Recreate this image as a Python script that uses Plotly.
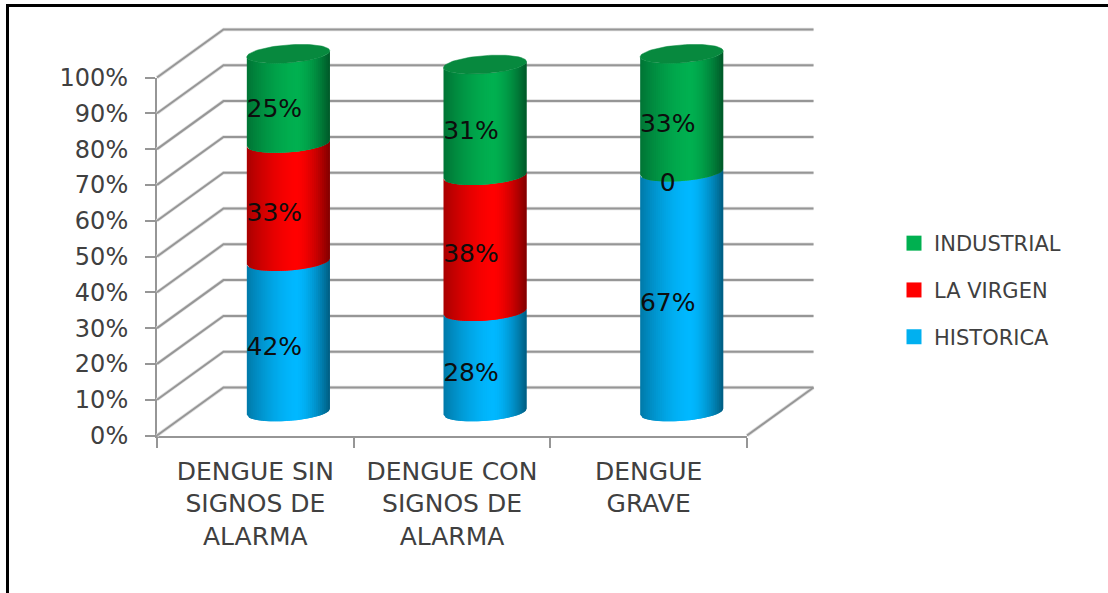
import plotly.graph_objects as go
import numpy as np

CATEGORIES = ["DENGUE SIN<br>SIGNOS DE<br>ALARMA", "DENGUE CON<br>SIGNOS DE<br>ALARMA", "DENGUE<br>GRAVE"]
HISTORICA = [42, 28, 67]
LA_VIRGEN = [33, 38, 0]
INDUSTRIAL = [25, 31, 33]
LABELS_HISTORICA = ["42%", "28%", "67%"]
LABELS_LA_VIRGEN = ["33%", "38%", "0"]
LABELS_INDUSTRIAL = ["25%", "31%", "33%"]
TICK_VALUES = list(range(0, 101, 10))
TICK_LABELS = [f"{v}%" for v in TICK_VALUES]

W, H = 1108, 593
LEFT, RIGHT = 157.0, 747.0      # front plane, px
BOTTOM, TOP = 435.5, 77.5
PX_X = (RIGHT - LEFT) / 3
PX_Y = (BOTTOM - TOP) / 100
DEPTH_X, DEPTH_Y = 66.5 / PX_X, 48 / PX_Y
GRID = "#969696"
HALO = "#e0e0e0"
TEXT = "#404040"
SIDE = "#0d0d0d"
FONT = "DejaVu Sans"

SERIES = [
    ("HISTORICA", HISTORICA, LABELS_HISTORICA, (0, 184, 255), "#00B0F0"),
    ("LA VIRGEN", LA_VIRGEN, LABELS_LA_VIRGEN, (255, 0, 0), "#FF0000"),
    ("INDUSTRIAL", INDUSTRIAL, LABELS_INDUSTRIAL, (0, 176, 80), "#00B050"),
]

fig = go.Figure()


def line(xs, ys, color, width):
    fig.add_trace(go.Scatter(x=xs, y=ys, mode="lines", xaxis="x2", yaxis="y2", showlegend=False,
                             hoverinfo="skip", line=dict(color=color, width=width)))


# walls and floor
for color, width in ((HALO, 3.5), (GRID, 2)):
    for v in TICK_VALUES:
        line([-0.5, -0.5 + DEPTH_X, 2.5 + DEPTH_X], [v, v + DEPTH_Y, v + DEPTH_Y], color, width)
    line([2.5, 2.5 + DEPTH_X], [0, DEPTH_Y], color, width)

# cylinders
A = 41.5 / PX_X
TILT = 3 / PX_Y
B = 9 / PX_Y
CX = 66 / PX_X / 2
CY = 6.6
N = 42
edges = np.linspace(-1, 1, N + 1)


def shade(t, rgb):
    u = (t - 0.2) / (1.2 if t < 0.2 else 0.8)
    f = 1 - (0.34 if t < 0.2 else 0.5) * abs(u) ** 1.6
    return "rgb(%d,%d,%d)" % tuple(round(c * f) for c in rgb)


def front(t):
    return TILT * t - B * np.sqrt(np.clip(1 - t ** 2, 0, 1))


for i in range(3):
    centre = i + CX
    cum = 0
    for name, values, labels, rgb, _ in SERIES:
        v = values[i]
        if v > 0:
            for k in range(N):
                # each strip runs one step past its own right edge, so the next one paints over it
                t0, t1 = edges[k], edges[min(k + 2, N)]
                ts = np.linspace(t0, t1, 4)
                low = CY + cum + front(ts)
                high = CY + cum + v + front(ts)
                col = shade((edges[k] + edges[k + 1]) / 2, rgb)
                fig.add_trace(go.Scatter(
                    x=np.r_[centre + A * ts, centre + A * ts[::-1]],
                    y=np.r_[low, high[::-1]],
                    mode="lines", fill="toself", fillcolor=col, line=dict(color=col, width=0),
                    xaxis="x2", yaxis="y2", showlegend=False, hoverinfo="skip"))
        cum += v
    th = np.linspace(0, 2 * np.pi, 90)
    fig.add_trace(go.Scatter(
        x=centre + A * np.cos(th),
        y=CY + cum + TILT * np.cos(th) + B * np.sin(th),
        mode="lines", fill="toself", fillcolor="#07893E", line=dict(color="#07893E", width=0.5),
        xaxis="x2", yaxis="y2", showlegend=False, hoverinfo="skip"))

# data labels
for i in range(3):
    cum = 0
    for name, values, labels, rgb, _ in SERIES:
        v = values[i]
        fig.add_trace(go.Scatter(
            x=[i + CX - 14 / PX_X], y=[CY + cum + v / 2 - 12.5 / PX_Y], text=[labels[i]], mode="text",
            textfont=dict(family=FONT, size=25, color=SIDE), textposition="middle center",
            xaxis="x2", yaxis="y2", showlegend=False, hoverinfo="skip"))
        cum += v

# legend entries
for idx, (name, values, labels, rgb, swatch) in enumerate(reversed(SERIES)):
    fig.add_trace(go.Scatter(x=[None], y=[None], mode="markers", name=name, legendgroup=name,
                             marker=dict(symbol="square", size=15, color=swatch)))

frame_x = 7.5 / W
frame_y = 1 - 5.5 / H
fig.update_layout(
    width=W, height=H, margin=dict(l=0, r=0, t=0, b=0, autoexpand=False),
    paper_bgcolor="white", plot_bgcolor="rgba(0,0,0,0)",
    font=dict(family=FONT, color=TEXT),
    xaxis=dict(domain=[LEFT / W, RIGHT / W], range=[-0.5, 2.5], tickmode="array", automargin=False,
               tickvals=[0, 1, 2], ticktext=CATEGORIES, showgrid=False, zeroline=False,
               showline=True, linecolor=GRID, linewidth=2, ticks="", ticklabelstandoff=12,
               tickfont=dict(family=FONT, size=25, color=TEXT), tickangle=0,
               minor=dict(tickmode="array", tickvals=[-0.5, 0.5, 1.5, 2.5], ticks="outside",
                          ticklen=10, tickwidth=2, tickcolor=GRID, showgrid=False)),
    yaxis=dict(domain=[(H - BOTTOM) / H, (H - TOP) / H], range=[0, 100], tickmode="array", automargin=False,
               tickvals=TICK_VALUES, ticktext=TICK_LABELS, showgrid=False, zeroline=False,
               showline=True, linecolor=GRID, linewidth=2, ticks="outside", ticklen=10,
               tickwidth=2, tickcolor=GRID, ticklabelstandoff=12,
               tickfont=dict(family=FONT, size=24, color=TEXT)),
    xaxis2=dict(domain=[0, 1], range=[-0.5 - LEFT / PX_X, -0.5 + (W - LEFT) / PX_X],
                visible=False, anchor="y2", automargin=False),
    yaxis2=dict(domain=[0, 1], range=[(BOTTOM - H) / PX_Y, BOTTOM / PX_Y],
                visible=False, anchor="x2", automargin=False),
    legend=dict(x=894 / W, y=1 - 223 / H, xanchor="left", yanchor="top",
                bgcolor="rgba(0,0,0,0)", tracegroupgap=16.5, itemsizing="trace",
                font=dict(family=FONT, size=21, color=TEXT), traceorder="grouped"),
    shapes=[dict(type="path", xref="paper", yref="paper",
                 path=f"M {frame_x} 0 L {frame_x} {frame_y} L 1 {frame_y}",
                 line=dict(color="black", width=3))],
)

fig.write_html("out.html", config={"displayModeBar": False},
               post_script="document.body.style.margin='0';document.body.style.overflow='hidden';")
